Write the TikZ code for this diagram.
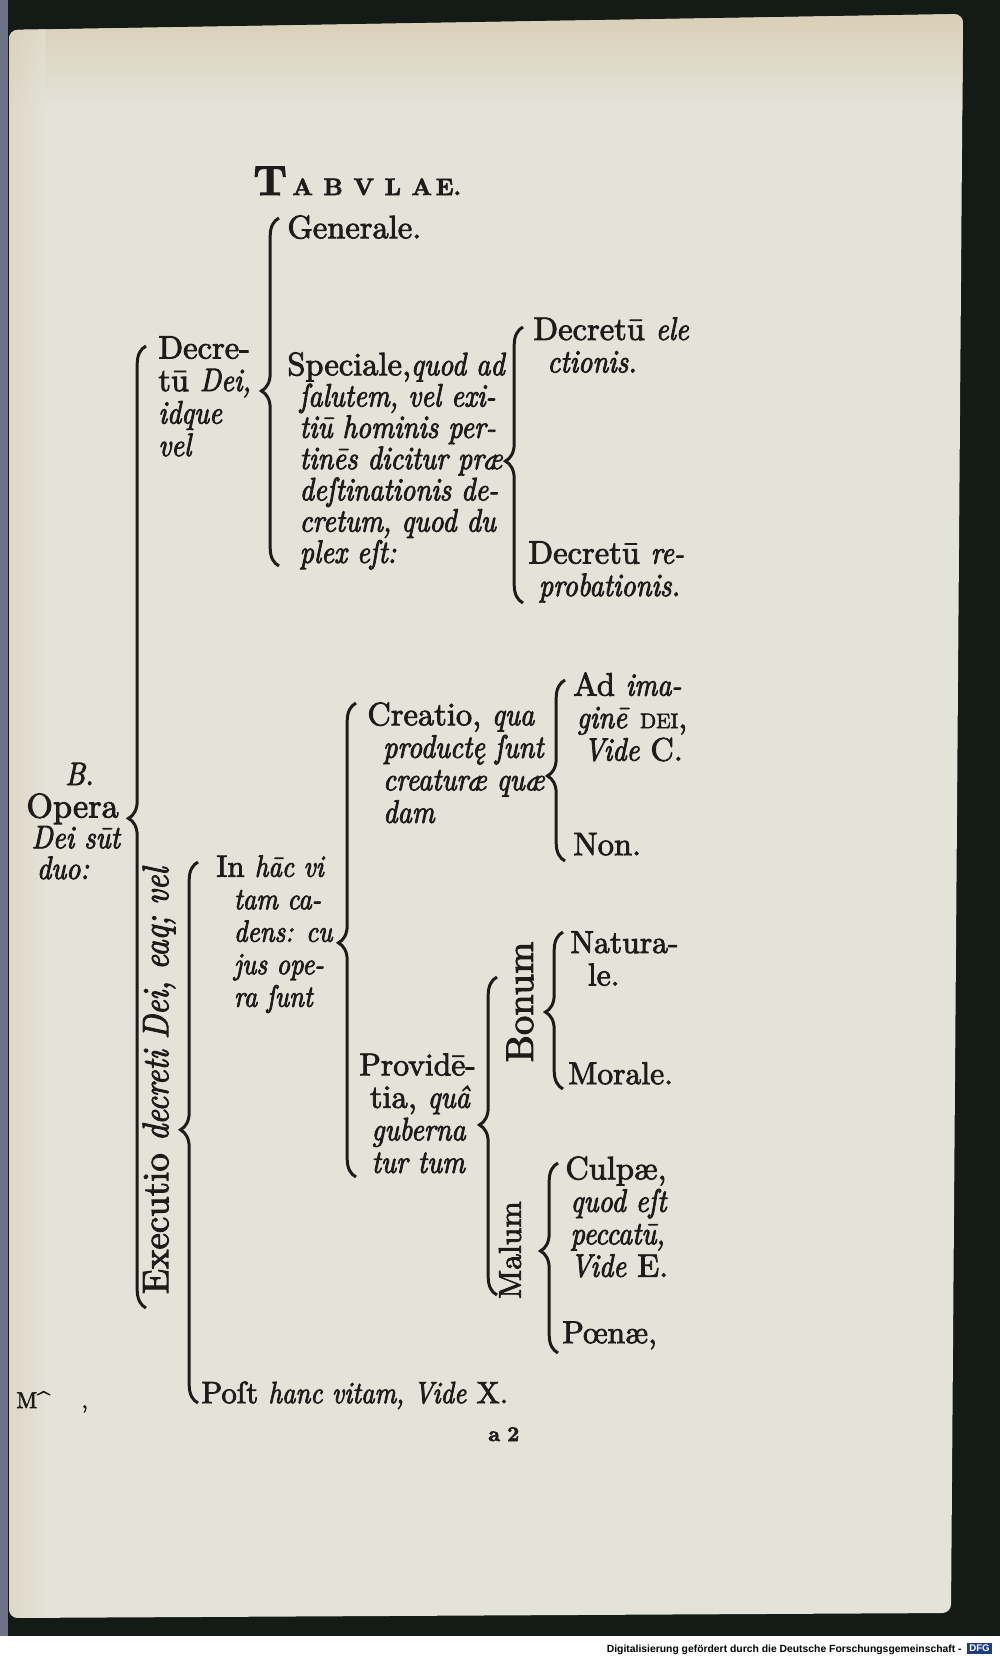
\documentclass[tikz,border=0pt]{standalone}
\usepackage{fontspec}
\setmainfont{lmroman10-regular.otf}[
  BoldFont=lmroman10-bold.otf, ItalicFont=lmroman10-italic.otf,
  BoldItalicFont=lmroman10-bolditalic.otf, FakeBold=2.5,
  ItalicFeatures={FakeStretch=0.86}]
\usepackage{tikz}
\usetikzlibrary{decorations.pathreplacing, positioning}
\newfontfamily\footfont{Liberation Sans}
\definecolor{inkblack}{HTML}{1E1C1A}
\definecolor{paper}{HTML}{E3E3D9}
\definecolor{paperwarm}{HTML}{D8CCB2}
\definecolor{scandark}{HTML}{141A16}
\definecolor{spine}{HTML}{6E7287}
\definecolor{dfgblue}{HTML}{1F3C88}
\newcommand\indt[1]{\hspace*{#1pt}}

\begin{document}
\begin{tikzpicture}[
  x=0.02cm, y=-0.02cm,
  font=\fontsize{18.5}{18.5}\selectfont,
  every node/.style={text=inkblack},
  txt/.style={anchor=north west, inner sep=0pt, align=left, execute at begin node=\strut},
  tight/.style={txt, font=\fontsize{18.5}{17.8}\selectfont},
  small/.style={txt, font=\fontsize{17.5}{18.5}\selectfont},
  vert/.style={rotate=90, inner sep=0pt},
  brc/.style={draw=inkblack, line width=1.7pt, decorate,
              decoration={brace, amplitude=10pt, aspect=#1}},
  brc/.default=0.5
]
\useasboundingbox (0,0) rectangle (1000,1656);

% Scan and page
\fill[scandark] (0,0) rectangle (1000,1636);
\fill[white] (0,1636) rectangle (1000,1656);
\fill[spine] (0,0) rectangle (8,1636);
\begin{scope}
  \clip[rounded corners=5pt] (9,30) -- (963,14) -- (951,1613) -- (9,1618) -- cycle;
  \fill[paper] (0,0) rectangle (1000,1656);
  \shade[top color=paperwarm, bottom color=paper] (0,0) rectangle (1000,110);
  \shade[left color=paperwarm, right color=paper, opacity=0.6] (0,0) rectangle (45,1656);
\end{scope}

% Title
\node[anchor=base west, inner sep=0pt, font=\bfseries] (title) at (253,195)
  {{\fontsize{24}{24}\selectfont T}\kern3pt{\fontsize{13.5}{14}\selectfont A\kern6pt B\kern6pt V\kern6pt L\kern6pt A\kern2pt E.}};

% Opera Dei
\node[anchor=base west, inner sep=0pt] (opB) at (65,785) {\textit{B.}};
\node[txt, font=\fontsize{18.5}{17.5}\selectfont] (opera) at (26,793)
  {{\fontsize{19.5}{17.5}\selectfont Opera}\\\indt{3}\textit{Dei sūt}\\\indt{6}\textit{duo:}};

% Decretum
\node[txt] (decr) at (158,336) {Decre-\\tū \textit{Dei,}\\\textit{idque}\\\textit{vel}};
\node[txt] (gen) at (287,215) {Generale.};
\node[tight] (spec) at (287,352)
  {Speciale,\textit{quod ad}\\\indt{7}\textit{ſalutem, vel exi-}\\\indt{7}\textit{tiū hominis per-}\\
   \indt{7}\textit{tinēs dicitur præ}\\\indt{7}\textit{deſtinationis de-}\\\indt{7}\textit{cretum, quod du}\\
   \indt{7}\textit{plex eſt:}};
\node[txt] (elec) at (533,317) {Decretū \textit{ele}\\\indt{8}\textit{ctionis.}};
\node[txt] (repr) at (528,541) {Decretū \textit{re-}\\\indt{6}\textit{probationis.}};

% Executio
\node[vert, font=\fontsize{21}{21}\selectfont] (exec) at (159,1080) {Executio \textit{decreti Dei, eaq; vel}};
\node[small] (inhac) at (216,855)
  {In \textit{hāc vi}\\\indt{10}\textit{tam ca-}\\\indt{10}\textit{dens: cu}\\\indt{10}\textit{jus ope-}\\\indt{10}\textit{ra ſunt}};
\node[small] (post) at (201,1380) {Poſt \textit{hanc vitam, Vide} X.};

% Creatio
\node[txt] (creat) at (367,702)
  {Creatio, \textit{qua}\\\indt{9}\textit{productę ſunt}\\\indt{9}\textit{creaturæ quæ}\\\indt{9}\textit{dam}};
\node[txt] (adim) at (573,672)
  {Ad \textit{ima-}\\\indt{2}\textit{ginē} {\fontsize{12}{12}\selectfont DEI},\\\indt{6}\textit{Vide} C.};
\node[txt] (non) at (573,832) {Non.};

% Providentia
\node[txt] (provid) at (359,1053)
  {{\fontsize{18}{18.5}\selectfont Providē-}\\\indt{6}tia, \textit{quâ}\\\indt{7}\textit{guberna}\\\indt{7}\textit{tur tum}};
\node[vert, font=\fontsize{22}{22}\selectfont] (bonum) at (520,1002) {Bonum};
\node[vert, font=\fontsize{18}{18}\selectfont] (malum) at (510,1250) {Malum};
\node[txt, font=\fontsize{18}{18.5}\selectfont] (natur) at (570,931) {Natura-\\\indt{10}le.};
\node[txt, font=\fontsize{18}{18.5}\selectfont] (moral) at (568,1061) {Morale.};
\node[txt] (culp) at (565,1156)
  {Culpæ,\\\indt{3}\textit{quod eſt}\\\indt{3}\textit{peccatū,}\\\indt{3}\textit{Vide} E.};
\node[txt, font=\fontsize{18}{18.5}\selectfont] (poen) at (562,1320) {Pœnæ,};

% Signature and margin
\node[anchor=base west, inner sep=0pt, font=\bfseries\fontsize{12}{12}\selectfont] (sig) at (488,1441) {a\kern4pt 2};
\node[anchor=base west, inner sep=0pt, font=\fontsize{13}{13}\selectfont] (mark) at (16,1408) {M\textasciicircum\kern18pt,};

% Brackets
\coordinate (opera-lo) at (146,1308);  \coordinate (opera-hi) at (146,346);
\coordinate (decr-lo) at (279,566);    \coordinate (decr-hi) at (279,218);
\coordinate (spec-lo) at (523,603);    \coordinate (spec-hi) at (523,327);
\coordinate (exec-lo) at (198,1403);   \coordinate (exec-hi) at (198,862);
\coordinate (inhac-lo) at (356,1177);  \coordinate (inhac-hi) at (356,703);
\coordinate (creat-lo) at (565,861);   \coordinate (creat-hi) at (565,680);
\coordinate (provid-lo) at (497,1295); \coordinate (provid-hi) at (497,977);
\coordinate (bonum-lo) at (563,1089);  \coordinate (bonum-hi) at (563,932);
\coordinate (malum-lo) at (558,1353);  \coordinate (malum-hi) at (558,1163);
\draw[brc=0.509] (opera-lo) -- (opera-hi);
\draw[brc=0.503] (decr-lo) -- (decr-hi);
\draw[brc=0.514] (spec-lo) -- (spec-hi);
\draw[brc=0.505] (exec-lo) -- (exec-hi);
\draw[brc=0.494] (inhac-lo) -- (inhac-hi);
\draw[brc=0.47] (creat-lo) -- (creat-hi);
\draw[brc=0.535] (provid-lo) -- (provid-hi);
\draw[brc=0.49] (bonum-lo) -- (bonum-hi);
\draw[brc=0.537] (malum-lo) -- (malum-hi);

% Footer
\node[anchor=base east, inner sep=0pt, text=black, font=\footfont\bfseries\fontsize{5.9}{7}\selectfont] (foot) at (962,1652)
  {Digitalisierung gefördert durch die Deutsche Forschungsgemeinschaft -};
\node[fill=dfgblue, text=white, inner sep=0pt, minimum width=14pt, minimum height=6.5pt,
      font=\footfont\bfseries\fontsize{5.5}{6}\selectfont] (dfg) at (979.5,1648.5) {DFG};

\end{tikzpicture}
\end{document}
